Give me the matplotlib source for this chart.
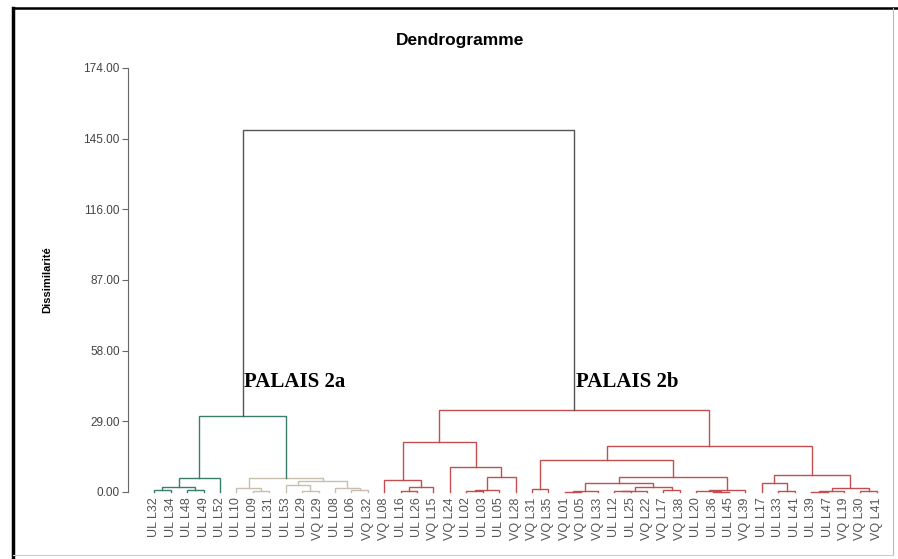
import matplotlib
matplotlib.use("Agg")
import matplotlib.pyplot as plt
from matplotlib.lines import Line2D

plt.rcParams['font.family'] = ['Liberation Sans', 'DejaVu Sans']

# feuilles du dendrogramme (ordre de gauche a droite)
leaves = [
    "UL L32", "UL L34", "UL L48", "UL L49", "UL L52",
    "UL L10", "UL L09", "UL L31", "UL L53", "UL L29", "VQ L29", "UL L08", "UL L06", "VQ L32",
    "VQ L08", "UL L16", "UL L26", "VQ L15", "VQ L24", "UL L02", "UL L03", "UL L05", "VQ L28",
    "VQ L31", "VQ L35", "VQ L01", "VQ L05", "VQ L33", "UL L12", "UL L25", "VQ L22", "VQ L17",
    "VQ L38", "UL L20", "UL L36", "UL L45", "VQ L39", "UL L17", "UL L33", "UL L41", "UL L39",
    "UL L47", "VQ L19", "VQ L30", "VQ L41",
]
# classe de chaque feuille (1, 2 -> palais 2a ; 3 -> palais 2b)
leaf_class = [1] * 5 + [2] * 9 + [3] * 31

# fusions : (noeud, gauche, droite, dissimilarite)
merges = [
    ("a1", "UL L32", "UL L34", 0.8),
    ("a2", "UL L48", "UL L49", 0.8),
    ("a3", "a1", "a2", 2.2),
    ("a4", "a3", "UL L52", 5.7),
    ("b1", "UL L09", "UL L31", 0.5),
    ("b2", "UL L10", "b1", 1.6),
    ("b3", "UL L29", "VQ L29", 0.4),
    ("b4", "UL L53", "b3", 2.9),
    ("b5", "UL L06", "VQ L32", 0.8),
    ("b6", "UL L08", "b5", 1.6),
    ("b7", "b4", "b6", 4.5),
    ("b8", "b2", "b7", 5.7),
    ("P2a", "a4", "b8", 31.2),
    ("c1", "UL L16", "UL L26", 0.6),
    ("c2", "c1", "VQ L15", 2.1),
    ("c3", "VQ L08", "c2", 4.9),
    ("c4", "UL L02", "UL L03", 0.3),
    ("c5", "c4", "UL L05", 0.8),
    ("c6", "c5", "VQ L28", 6.1),
    ("c7", "VQ L24", "c6", 10.3),
    ("c8", "c3", "c7", 20.5),
    ("d1", "VQ L31", "VQ L35", 1.2),
    ("d2", "VQ L01", "VQ L05", 0.2),
    ("d3", "d2", "VQ L33", 0.4),
    ("d4", "UL L12", "UL L25", 0.3),
    ("d5", "d4", "VQ L22", 0.6),
    ("d6", "VQ L17", "VQ L38", 1.0),
    ("d7", "d5", "d6", 2.0),
    ("d8", "d3", "d7", 3.6),
    ("d9", "UL L36", "UL L45", 0.2),
    ("d10", "UL L20", "d9", 0.5),
    ("d11", "d10", "VQ L39", 0.8),
    ("d12", "d8", "d11", 6.2),
    ("d13", "d1", "d12", 13.1),
    ("e1", "UL L33", "UL L41", 0.5),
    ("e2", "UL L17", "e1", 3.6),
    ("e3", "UL L39", "UL L47", 0.1),
    ("e4", "e3", "VQ L19", 0.4),
    ("e5", "VQ L30", "VQ L41", 0.5),
    ("e6", "e4", "e5", 1.6),
    ("e7", "e2", "e6", 7.0),
    ("e8", "d13", "e7", 18.9),
    ("P2b", "c8", "e8", 33.6),
    ("root", "P2a", "P2b", 148.5),
]

yticks = [0, 29, 58, 87, 116, 145, 174]

class_colors = {1: "#3b7d6b", 2: "#c9bfae", 3: "#c44d50"}
palais_of_class = {1: "2a", 2: "2a", 3: "2b"}
palais_colors = {"2a": "#3b7d6b", "2b": "#c44d50"}
above_color = "#555555"

fig = plt.figure(figsize=(8.98, 5.59), dpi=100)
ax = fig.add_axes([128 / 898, 67 / 559, 762 / 898, 424 / 559])

# positions et classes des noeuds
pos = {name: (i, 0.0) for i, name in enumerate(leaves)}
classes = {name: {c} for name, c in zip(leaves, leaf_class)}

for node, left, right, h in merges:
    xl, yl = pos[left]
    xr, yr = pos[right]
    cls = classes[left] | classes[right]
    classes[node] = cls
    pos[node] = ((xl + xr) / 2, h)
    if len(cls) == 1:
        col = class_colors[next(iter(cls))]
    elif len({palais_of_class[c] for c in cls}) == 1:
        col = palais_colors[palais_of_class[next(iter(cls))]]
    else:
        col = above_color
    ax.plot([xl, xl, xr, xr], [yl, h, h, yr], color=col, lw=1.0,
            solid_joinstyle='miter', clip_on=False)

ax.set_xlim(-1.6, 44.8)
ax.set_ylim(0, 174)

ax.set_xticks(range(len(leaves)))
ax.set_xticklabels(leaves, rotation=90, fontsize=9, color="#555555")
ax.tick_params(axis='x', length=0, pad=4)

ax.set_yticks(yticks)
ax.set_yticklabels([f"{v:.2f}" for v in yticks], fontsize=8.5, color="#444444")
ax.tick_params(axis='y', direction='out', length=4, width=0.8, color="#666666", pad=2)

for s in ['top', 'right', 'bottom']:
    ax.spines[s].set_visible(False)
ax.spines['left'].set_color("#666666")
ax.spines['left'].set_linewidth(0.8)
ax.spines['left'].set_bounds(0, 174)

ax.set_ylabel("Dissimilarité", fontsize=8, fontweight='bold', labelpad=22)
fig.text(460 / 898, 1 - 40 / 559, "Dendrogramme", ha='center', va='center',
         fontsize=12.5, fontweight='bold')

# etiquettes des deux palais
for name, lab in [("P2a", "PALAIS 2a"), ("P2b", "PALAIS 2b")]:
    x, _ = pos[name]
    ax.text(x + 0.1, 45, lab, family='Liberation Serif', fontweight='bold',
            fontsize=15, ha='left', va='center')

# cadre de l'image
fig.add_artist(Line2D([13 / 898, 13 / 898], [0, 1 - 8 / 559], transform=fig.transFigure,
                      color="black", lw=2.5))
fig.add_artist(Line2D([13 / 898, 1], [1 - 8 / 559, 1 - 8 / 559], transform=fig.transFigure,
                      color="black", lw=1.8))
fig.add_artist(Line2D([893 / 898, 893 / 898], [4 / 559, 1 - 8 / 559], transform=fig.transFigure,
                      color="#bbbbbb", lw=0.8))
fig.add_artist(Line2D([13 / 898, 893 / 898], [4 / 559, 4 / 559], transform=fig.transFigure,
                      color="#cccccc", lw=0.8))

fig.savefig("out.png", dpi=100)
